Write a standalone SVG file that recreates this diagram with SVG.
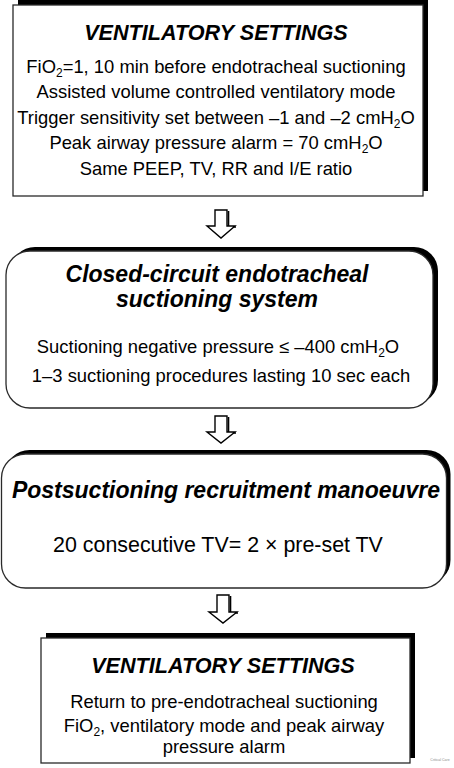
<svg xmlns="http://www.w3.org/2000/svg" width="454" height="768" viewBox="0 0 454 768">
<defs>
<style>
.shadow{fill:#000}
.box{fill:#fff;stroke:#2a2a2a;stroke-width:1.3}
.arrow{fill:#fff;stroke:#000;stroke-width:1.4;stroke-linejoin:miter}
.arrowsh{fill:none;stroke:#000;stroke-width:1.6}
text{font-family:"Liberation Sans",Arial,sans-serif;fill:#000;text-anchor:middle}
.title{font-weight:bold;font-style:italic;font-size:21.6px}
.title2{font-weight:bold;font-style:italic;font-size:23px}
.body{font-size:18.4px}
.sub{font-size:12px}
</style>
</defs>
<rect width="454" height="768" fill="#fff"/>
<g id="connectors">
<g id="arrow1">
<polyline class="arrowsh" points="228.5,211 228.5,227 236,227"/>
<polygon class="arrow" points="215,210 227,210 227,226 235,226 221,238 207,226 215,226"/>
</g>
<g id="arrow2">
<polyline class="arrowsh" points="228.5,417 228.5,433 236,433"/>
<polygon class="arrow" points="215,416 227,416 227,432 235,432 221,443 207,432 215,432"/>
</g>
<g id="arrow3">
<polyline class="arrowsh" points="230.5,596 230.5,613 238,613"/>
<polygon class="arrow" points="217,595 229,595 229,612 237,612 223,623 209,612 217,612"/>
</g>
</g>
<g id="node1">
<rect class="shadow" x="18" y="0" width="410" height="191"/>
<rect class="box" x="13" y="5" width="410" height="191"/>
<text class="title" x="216" y="40">VENTILATORY SETTINGS</text>
<text class="body" x="216" y="73">FiO<tspan class="sub" dy="4">2</tspan><tspan dy="-4">=1, 10 min before endotracheal suctioning</tspan></text>
<text class="body" x="216" y="98">Assisted volume controlled ventilatory mode</text>
<text class="body" x="216" y="124">Trigger sensitivity set between –1 and –2 cmH<tspan class="sub" dy="4">2</tspan><tspan dy="-4">O</tspan></text>
<text class="body" x="216" y="149">Peak airway pressure alarm = 70 cmH<tspan class="sub" dy="4">2</tspan><tspan dy="-4">O</tspan></text>
<text class="body" x="216" y="175">Same PEEP, TV, RR and I/E ratio</text>
</g>
<g id="node2">
<rect class="shadow" x="11" y="247" width="427" height="157" rx="24"/>
<rect class="box" x="6" y="251" width="427" height="157" rx="24"/>
<text class="title2" x="217" y="282">Closed-circuit endotracheal</text>
<text class="title2" x="217" y="307">suctioning system</text>
<text class="body" x="218" y="353">Suctioning negative pressure ≤ –400 cmH<tspan class="sub" dy="4">2</tspan><tspan dy="-4">O</tspan></text>
<text class="body" x="221" y="382">1–3 suctioning procedures lasting 10 sec each</text>
</g>
<g id="node3">
<rect class="shadow" x="5.5" y="450" width="445" height="134" rx="24"/>
<rect class="box" x="1.5" y="454" width="445" height="134" rx="24"/>
<text class="title2" x="226" y="498">Postsuctioning recruitment manoeuvre</text>
<text class="body" x="218" y="552" style="font-size:21.4px">20 consecutive TV= 2 × pre-set TV</text>
</g>
<g id="node4">
<rect class="shadow" x="46" y="633" width="369" height="125"/>
<rect class="box" x="41" y="638" width="369" height="125"/>
<text class="title" x="223" y="673">VENTILATORY SETTINGS</text>
<text class="body" x="224" y="708">Return to pre-endotracheal suctioning</text>
<text class="body" x="224" y="732">FiO<tspan class="sub" dy="4">2</tspan><tspan dy="-4">, ventilatory mode and peak airway</tspan></text>
<text class="body" x="224" y="753">pressure alarm</text>
</g>
<text x="440" y="761" style="font-size:3.5px;fill:#888">Critical Care</text>
</svg>
